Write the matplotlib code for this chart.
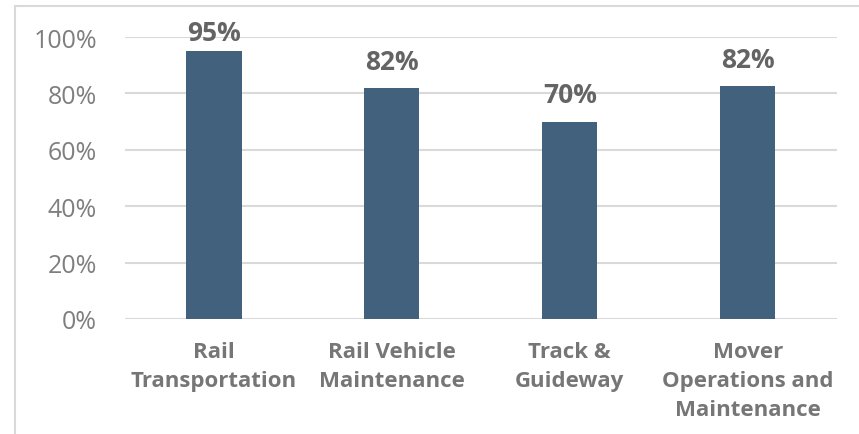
import matplotlib.pyplot as plt
from matplotlib.patches import Rectangle

categories = ["Rail\nTransportation", "Rail Vehicle\nMaintenance", "Track &\nGuideway",
              "Mover\nOperations and\nMaintenance"]
values = [95, 82, 70, 82.5]
labels = ["95%", "82%", "70%", "82%"]
yticks = [0, 20, 40, 60, 80, 100]

plt.rcParams['font.family'] = ['Open Sans', 'DejaVu Sans']

fig = plt.figure(figsize=(8.59, 4.35), dpi=100)
ax = fig.add_axes([0.1455, 0.2644, 0.8285, 0.6482])

# light border round the chart area
fig.patches.append(Rectangle((15 / 859, -0.1), 1.2, 0.1 + 1 - 7 / 435, transform=fig.transFigure,
                             fill=False, edgecolor="#D9D9D9", linewidth=1.5))

x = range(len(categories))
bars = ax.bar(x, values, width=0.31, color="#41617D", zorder=3)

for b, lab in zip(bars, labels):
    # labels near the top get squeezed down, like the original chart does
    off = 4 if b.get_height() > 90 else 9.5
    ax.annotate(lab, (b.get_x() + b.get_width() / 2, b.get_height()), xytext=(0, off),
                textcoords="offset points", ha="center", va="bottom",
                fontsize=19, fontweight="bold", color="#646464")

ax.set_xlim(-0.5, len(categories) - 0.5)
ax.set_ylim(0, 100)
ax.set_yticks(yticks)
ax.set_yticklabels([f"{v}%" for v in yticks], fontsize=18, color="#7F7F7F")
ax.set_xticks(list(x))
ax.set_xticklabels(categories, fontsize=16, fontweight="bold", color="#767676", linespacing=1.5)
ax.tick_params(axis="both", length=0)
ax.tick_params(axis="y", pad=20)
ax.tick_params(axis="x", pad=16)
ax.grid(axis="y", color="#D9D9D9", linewidth=1.5, zorder=0)
for s in ax.spines.values():
    s.set_visible(False)

fig.savefig("out.png", dpi=100)
